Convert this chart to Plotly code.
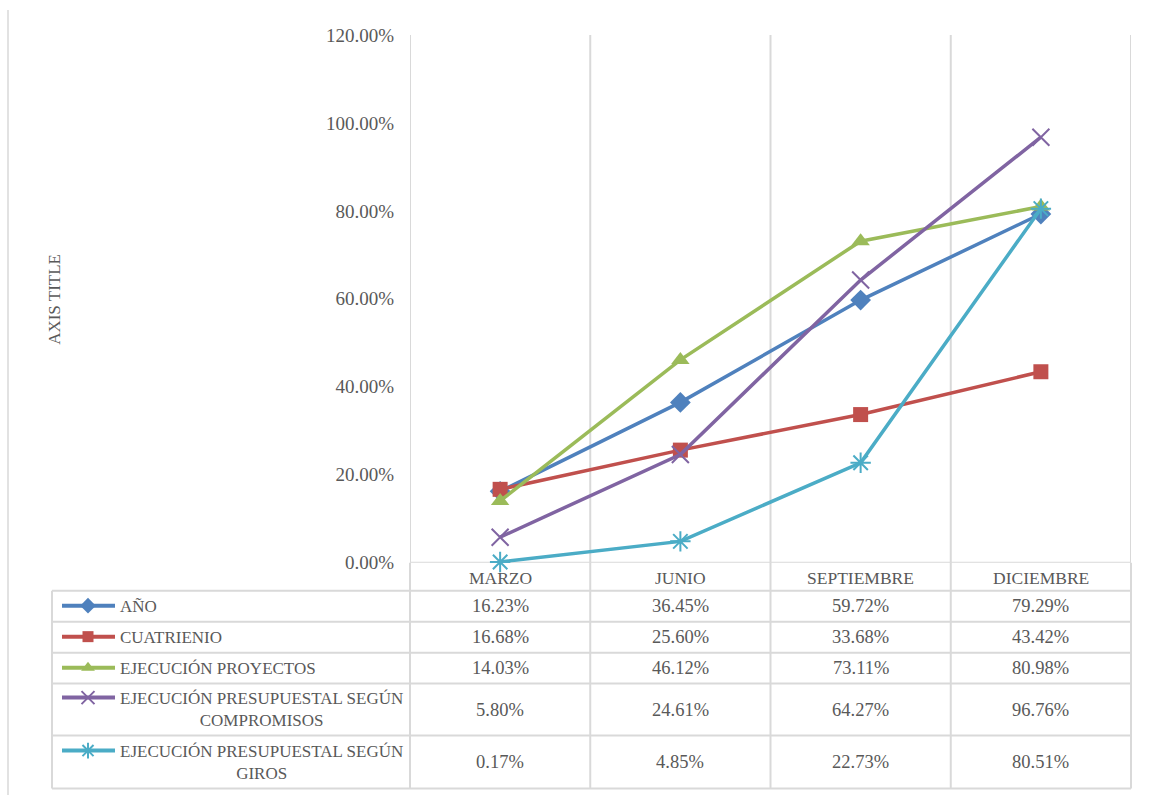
import plotly.graph_objects as go

# ---------------- data ----------------
categories = ["MARZO", "JUNIO", "SEPTIEMBRE", "DICIEMBRE"]
series_names = [
    "AÑO",
    "CUATRIENIO",
    "EJECUCIÓN PROYECTOS",
    "EJECUCIÓN PRESUPUESTAL SEGÚN<br>COMPROMISOS",
    "EJECUCIÓN PRESUPUESTAL SEGÚN<br>GIROS",
]
ano = [0.1623, 0.3645, 0.5972, 0.7929]
cuatrienio = [0.1668, 0.2560, 0.3368, 0.4342]
proyectos = [0.1403, 0.4612, 0.7311, 0.8098]
compromisos = [0.0580, 0.2461, 0.6427, 0.9676]
giros = [0.0017, 0.0485, 0.2273, 0.8051]
y_ticks = [0, 0.2, 0.4, 0.6, 0.8, 1.0, 1.2]
axis_title = "AXIS TITLE"

series_values = [ano, cuatrienio, proyectos, compromisos, giros]

# ---------------- styles ----------------
colors = ["#4F81BD", "#C0504D", "#9BBB59", "#8064A2", "#4BACC6"]
symbols = ["diamond", "square", "triangle-up", "x-thin-open", "asterisk-open"]
msizes = [16, 15, 16, 17, 17]
FONT = "Liberation Serif"
TXT = "#595959"
GRID = "#D9D9D9"

W, H = 1153, 822


def py(t):
    # map a target screen row to figure pixel row (compensates page offset/scale)
    return (t - 9) / 0.975


PL, PR = 410, 1131
PT, PB = py(34), py(562)
HEADER_BOTTOM = py(590)
ROW_EDGES = [py(v) for v in [590, 621, 652, 683, 735, 788]]
KEY_Y = [py(v) for v in [605, 636, 667, 697, 750]]
TABLE_LEFT = 52
KEY_X0, KEY_XM, KEY_X1 = 62, 88, 115
LABEL_X = 118

fig = go.Figure()

for name, vals, c, s, ms in zip(series_names, series_values, colors, symbols, msizes):
    open_sym = s.endswith("open")
    fig.add_trace(go.Scatter(
        x=categories, y=vals, mode="lines+markers",
        name=name.replace("<br>", " "),
        line=dict(color=c, width=3.5),
        marker=dict(symbol=s, size=ms, color=c,
                    line=dict(color=c, width=2 if open_sym else 0)),
        cliponaxis=False, xaxis="x", yaxis="y", showlegend=False,
    ))

for i, (c, s, ms) in enumerate(zip(colors, symbols, msizes)):
    yc = KEY_Y[i]
    open_sym = s.endswith("open")
    fig.add_trace(go.Scatter(
        x=[KEY_X0, KEY_X1], y=[yc, yc], mode="lines",
        line=dict(color=c, width=4), xaxis="x2", yaxis="y2",
        showlegend=False, hoverinfo="skip",
    ))
    fig.add_trace(go.Scatter(
        x=[KEY_XM], y=[yc], mode="markers",
        marker=dict(symbol=s, size=ms - 4, color=c,
                    line=dict(color=c, width=2 if open_sym else 0)),
        xaxis="x2", yaxis="y2", showlegend=False, hoverinfo="skip",
    ))

shapes = []
for k in range(len(categories) + 1):
    shapes.append(dict(type="line", xref="x", yref="y", x0=k - 0.5, x1=k - 0.5,
                       y0=0, y1=y_ticks[-1], line=dict(color=GRID, width=2), layer="below"))
shapes.append(dict(type="line", xref="x", yref="y", x0=-0.5, x1=len(categories) - 0.5,
                   y0=0, y1=0, line=dict(color=GRID, width=2), layer="below"))

bounds_px = [PL + (PR - PL) * k / len(categories) for k in range(len(categories) + 1)]
for bx in bounds_px:
    shapes.append(dict(type="line", xref="x2", yref="y2", x0=bx, x1=bx, y0=PB, y1=ROW_EDGES[-1],
                       line=dict(color=GRID, width=2)))
for ry in ROW_EDGES:
    shapes.append(dict(type="line", xref="x2", yref="y2", x0=TABLE_LEFT, x1=PR, y0=ry, y1=ry,
                       line=dict(color=GRID, width=2)))
shapes.append(dict(type="line", xref="x2", yref="y2", x0=TABLE_LEFT, x1=TABLE_LEFT,
                   y0=ROW_EDGES[0], y1=ROW_EDGES[-1], line=dict(color=GRID, width=2)))
shapes.append(dict(type="rect", xref="x2", yref="y2", x0=8, x1=W + 10, y0=py(4), y1=H + 20,
                   line=dict(color=GRID, width=1.5)))

annotations = []
for cat in categories:
    annotations.append(dict(x=cat, xref="x", y=(PB + HEADER_BOTTOM) / 2 + 1, yref="y2",
                            text=cat, showarrow=False, font=dict(family=FONT, size=17.5, color=TXT)))
for i, (name, vals) in enumerate(zip(series_names, series_values)):
    yc = (ROW_EDGES[i] + ROW_EDGES[i + 1]) / 2
    annotations.append(dict(x=LABEL_X, xref="x2", y=yc, yref="y2", text=name, showarrow=False,
                            xanchor="left", yanchor="middle", align="center",
                            font=dict(family=FONT, size=17, color=TXT)))
    for cat, v in zip(categories, vals):
        annotations.append(dict(x=cat, xref="x", y=yc, yref="y2", text=f"{v:.2%}",
                                showarrow=False, font=dict(family=FONT, size=18.5, color=TXT)))
annotations.append(dict(x=55, xref="x2", y=py(299), yref="y2", text=axis_title, textangle=-90,
                        showarrow=False, font=dict(family=FONT, size=17, color=TXT)))

fig.update_layout(
    width=W, height=H,
    margin=dict(l=0, r=0, t=0, b=0),
    paper_bgcolor="white", plot_bgcolor="rgba(0,0,0,0)",
    showlegend=False,
    xaxis=dict(domain=[PL / W, PR / W], type="category", range=[-0.5, len(categories) - 0.5],
               showgrid=False, showticklabels=False, zeroline=False, showline=False, fixedrange=True),
    yaxis=dict(domain=[(H - PB) / H, (H - PT) / H], range=[0, y_ticks[-1]], tickvals=y_ticks,
               tickformat=".2%", showgrid=False, zeroline=False, showline=False,
               ticks="", ticklabelstandoff=15,
               tickfont=dict(family=FONT, size=19, color=TXT), fixedrange=True),
    xaxis2=dict(domain=[0, 1], range=[0, W], visible=False, anchor="y2", fixedrange=True),
    yaxis2=dict(domain=[0, 1], range=[H, 0], visible=False, anchor="x2", fixedrange=True),
    shapes=shapes,
    annotations=annotations,
)

fig.write_html(
    "out.html",
    config={"displayModeBar": False},
    post_script=(
        "document.documentElement.style.margin='0';"
        "document.body.style.margin='0';document.body.style.overflow='hidden';"
        "var d=document.getElementById('{plot_id}');"
        "d.style.position='fixed';d.style.left='0px';d.style.top='0px';"
    ),
)
